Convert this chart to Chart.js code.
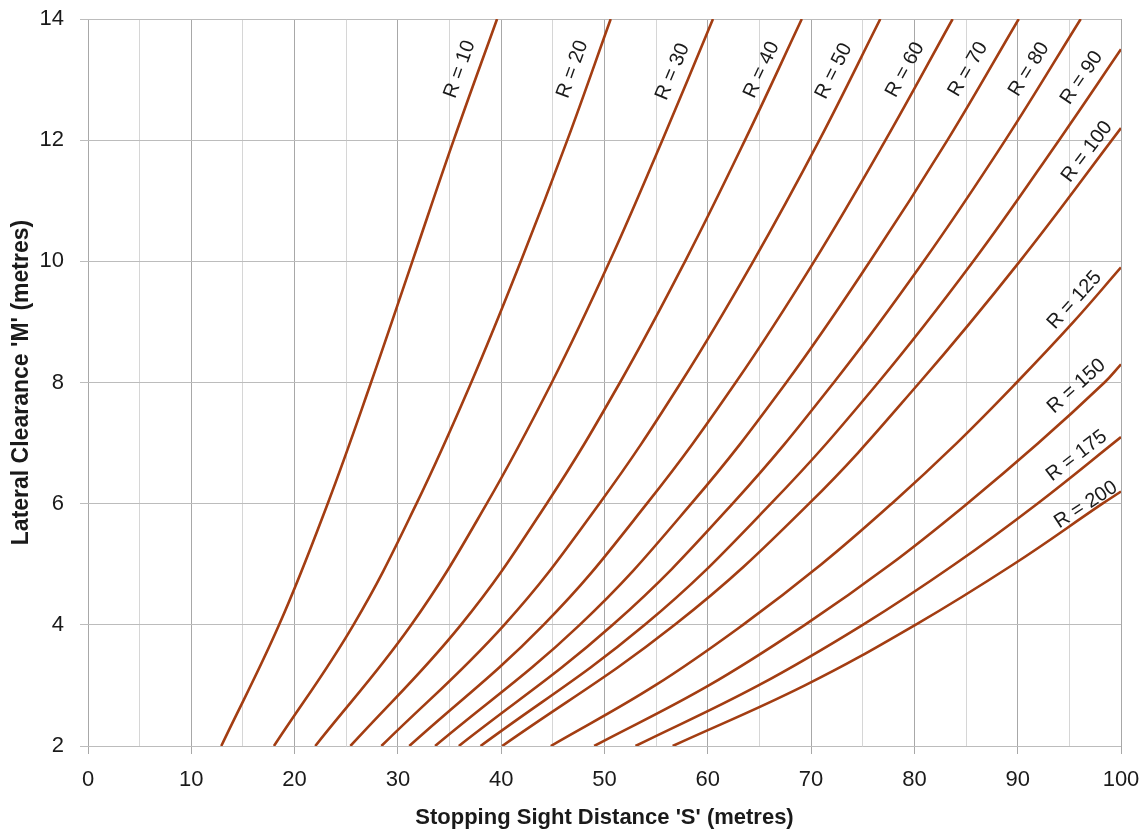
<!DOCTYPE html>
<html>
<head>
<meta charset="utf-8">
<script src="https://cdn.jsdelivr.net/npm/chart.js@4"></script>
<style>
  html, body { margin: 0; padding: 0; background: #fff; }
  canvas { display: block; }
</style>
</head>
<body>
<canvas id="clearanceCanvas" width="1146" height="831"></canvas>
<script>
// curve radii R (metres)
var radii = [10, 20, 30, 40, 50, 60, 70, 80, 90, 100, 125, 150, 175, 200];

// lateral clearance M at the horizontal gridlines, where the steep curves were read
var mLevels = [2, 4, 6, 8, 10, 12, 14];

// stopping sight distance S read at each level of mLevels
var s10 = [12.9, 18.5, 23.2, 27.4, 31.4, 35.4, 39.6];
var s20 = [18.0, 25.7, 31.8, 37.1, 41.9, 46.4, 50.6];
var s30 = [22.0, 31.3, 38.6, 44.9, 50.5, 55.6, 60.5];
var s40 = [25.4, 36.1, 44.4, 51.5, 57.8, 63.6, 69.1];
var s50 = [28.4, 40.3, 49.5, 57.4, 64.4, 70.8, 76.7];
var s60 = [31.1, 44.1, 54.1, 62.7, 70.3, 77.2, 83.7];
var s70 = [33.6, 47.6, 58.4, 67.6, 75.7, 83.2, 90.1];
var s80 = [35.9, 50.8, 62.4, 72.2, 80.9, 88.8, 96.1];

// flatter curves run out of the right edge, so they get their own M lists
var s90 = [38.0, 53.9, 66.1, 76.5, 85.7, 94.0, 100];
var m90 = [2, 4, 6, 8, 10, 12, 13.5];
var s100 = [40.1, 56.8, 69.8, 80.5, 90.2, 100];
var m100 = [2, 4, 6, 8, 10, 12.2];
var s125 = [44.8, 54.9, 63.4, 71.0, 77.8, 84.1, 89.9, 95.4, 100];
var m125 = [2, 3, 4, 5, 6, 7, 8, 9, 9.9];
var s150 = [49.0, 60.1, 69.4, 77.7, 85.1, 92.0, 98.4, 100];
var m150 = [2, 3, 4, 5, 6, 7, 8, 8.3];
var s175 = [53.0, 64.9, 75.0, 83.9, 91.9, 100];
var m175 = [2, 3, 4, 5, 6, 7.1];
var s200 = [56.6, 69.4, 80.1, 89.6, 98.2, 100];
var m200 = [2, 3, 4, 5, 6, 6.2];

var sLists = [s10, s20, s30, s40, s50, s60, s70, s80, s90, s100, s125, s150, s175, s200];
var mLists = [mLevels, mLevels, mLevels, mLevels, mLevels, mLevels, mLevels, mLevels,
              m90, m100, m125, m150, m175, m200];

// where the "R = .." text sits (centre, in S / M units)
var labelS = [36.0, 46.9, 56.6, 65.2, 72.2, 79.1, 85.2, 91.1, 96.2, 96.7, 95.5, 95.7, 95.7, 96.6];
var labelM = [13.17, 13.17, 13.13, 13.16, 13.14, 13.16, 13.17, 13.17, 13.03, 11.81, 9.36, 7.94, 6.79, 5.98];

var lineColor = '#a33d12';
var majorGrid = '#a8a8a8';
var minorGrid = '#d6d6d6';
var hGrid = '#bcbcbc';

var datasets = radii.map(function (r, i) {
  return {
    label: 'R = ' + r,
    data: sLists[i].map(function (s, j) { return { x: s, y: mLists[i][j] }; }),
    borderColor: lineColor,
    borderWidth: 2.6,
    pointRadius: 0,
    fill: false,
    tension: 0.4
  };
});

// draws the rotated "R = .." text along each curve
var curveLabelPlugin = {
  id: 'curveLabels',
  afterDatasetsDraw: function (chart) {
    var ctx = chart.ctx;
    var xs = chart.scales.x, ys = chart.scales.y;
    ctx.save();
    ctx.font = '20px "Liberation Sans", Arial, sans-serif';
    ctx.fillStyle = '#1a1a1a';
    ctx.textAlign = 'center';
    ctx.textBaseline = 'middle';
    radii.forEach(function (r, i) {
      var pts = chart.getDatasetMeta(i).data;
      var m = labelM[i];
      var ms = mLists[i];
      // chord of the curve around the label gives the text angle
      var lo = 0, hi = ms.length - 1;
      while (lo < ms.length - 1 && ms[lo + 1] <= m - 1) lo++;
      while (hi > 0 && ms[hi - 1] >= m + 1) hi--;
      var a = pts[lo], b = pts[hi];
      var angle = Math.atan2(b.y - a.y, b.x - a.x);
      ctx.save();
      ctx.translate(xs.getPixelForValue(labelS[i]), ys.getPixelForValue(m));
      ctx.rotate(angle);
      ctx.fillText('R = ' + r, 0, 0);
      ctx.restore();
    });
    ctx.restore();
  }
};

Chart.defaults.font.family = '"Liberation Sans", Arial, sans-serif';
Chart.defaults.color = '#1a1a1a';

new Chart(document.getElementById('clearanceCanvas'), {
  type: 'line',
  data: { datasets: datasets },
  plugins: [curveLabelPlugin],
  options: {
    responsive: false,
    animation: false,
    layout: { padding: { left: 8, right: 0, top: 0, bottom: 0 } },
    plugins: {
      legend: { display: false },
      tooltip: { enabled: false }
    },
    scales: {
      x: {
        type: 'linear',
        min: 0,
        max: 100,
        border: { display: false },
        afterFit: function (scale) {
          scale.height = 85;
          scale.paddingLeft = 0;
          scale.paddingRight = 25;
        },
        grid: {
          color: function (c) { return c.tick && c.tick.value % 10 === 0 ? majorGrid : minorGrid; },
          tickColor: function (c) { return c.tick && c.tick.value % 10 === 0 ? majorGrid : 'rgba(0,0,0,0)'; },
          tickLength: 8,
          lineWidth: 1
        },
        ticks: {
          stepSize: 5,
          autoSkip: false,
          maxRotation: 0,
          padding: 13,
          font: { size: 22 },
          callback: function (v) { return v % 10 === 0 ? v : ''; }
        },
        title: {
          display: true,
          text: "Stopping Sight Distance 'S' (metres)",
          font: { size: 22, weight: 'bold' },
          padding: { top: 0, bottom: 0 }
        }
      },
      y: {
        min: 2,
        max: 14,
        border: { display: false },
        afterFit: function (scale) {
          scale.width = 80;
          scale.paddingTop = 19;
          scale.paddingBottom = 0;
        },
        grid: { color: hGrid, tickColor: hGrid, tickLength: 8, lineWidth: 1 },
        ticks: {
          stepSize: 2,
          padding: 16,
          font: { size: 22 }
        },
        title: {
          display: true,
          text: "Lateral Clearance 'M' (metres)",
          font: { size: 23, weight: 'bold' },
          padding: { top: 0, bottom: 0 }
        }
      }
    }
  }
});
</script>
</body>
</html>
